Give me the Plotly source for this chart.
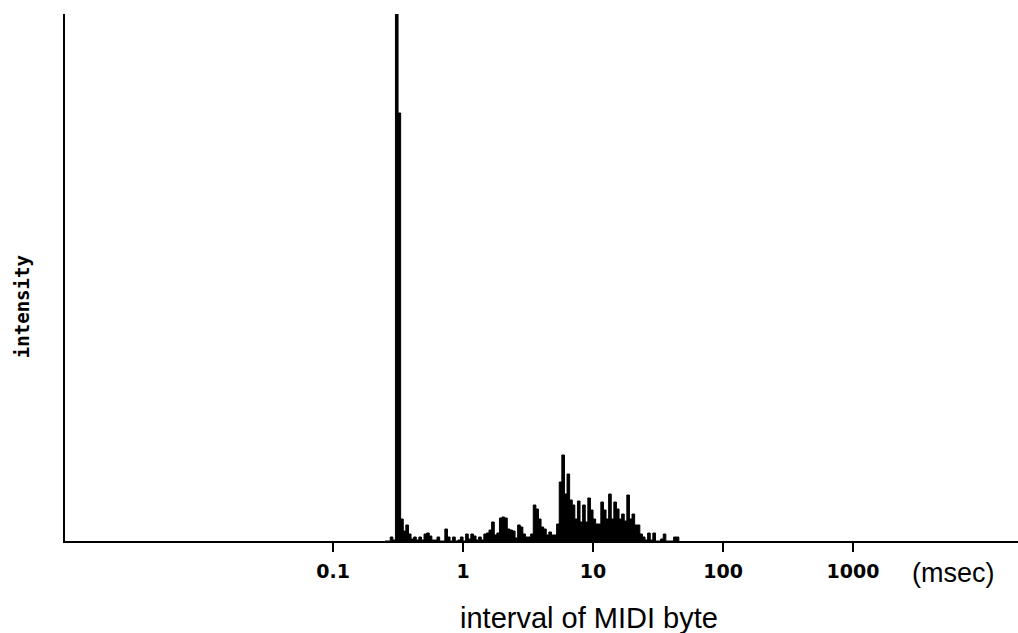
import numpy as np
import plotly.graph_objects as go

# Histogram of MIDI byte intervals (log-spaced bins)
bin_start_log10_ms = -0.6      # lower edge of first bin, log10(ms)
bin_step_decades = 0.02        # bin width in decades
intensity = [
    0, 0, 4, 1, 527, 428, 22, 10, 16, 7,
    2, 4, 1, 4, 1, 7, 8, 5, 1, 1,
    4, 0, 0, 12, 4, 0, 4, 0, 1, 4,
    0, 7, 2, 7, 5, 1, 4, 1, 7, 8,
    11, 19, 6, 8, 23, 24, 23, 12, 11, 10,
    3, 16, 14, 7, 4, 4, 7, 36, 32, 22,
    14, 12, 6, 9, 6, 6, 17, 59, 86, 47,
    67, 41, 36, 22, 40, 19, 36, 19, 43, 31,
    22, 17, 17, 39, 31, 22, 47, 22, 39, 32,
    22, 27, 20, 46, 22, 27, 16, 16, 7, 4,
    1, 8, 1, 8, 0, 0, 2, 7, 0, 0,
    0, 4, 4,
]
tick_values = [0.1, 1, 10, 100, 1000]
tick_labels = ["0.1", "1", "10", "100", "1000"]
x_title = "interval of MIDI byte"
y_title = "intensity"
unit_label = "(msec)"

n = len(intensity)
edges = 10 ** (bin_start_log10_ms + bin_step_decades * np.arange(n + 1))
xs = list(edges)
ys = list(intensity) + [0]

fig = go.Figure()
fig.add_trace(go.Scatter(
    x=xs, y=ys, mode="lines", line_shape="hv",
    line=dict(color="black", width=1),
    fill="tozeroy", fillcolor="black",
    hoverinfo="skip", showlegend=False,
))

fig.update_layout(
    width=1018, height=633,
    margin=dict(l=65, r=0, t=14, b=92),
    paper_bgcolor="white", plot_bgcolor="white",
    xaxis=dict(
        type="log", range=[-3.062, 4.269],
        tickvals=tick_values, ticktext=tick_labels,
        ticks="outside", ticklen=9, tickwidth=1.5, tickcolor="black",
        showline=True, linecolor="black", linewidth=1.5,
        showgrid=False, zeroline=False,
        tickfont=dict(family="DejaVu Sans", size=19, color="black", weight="bold"),
        ticklabelstandoff=3,
    ),
    yaxis=dict(
        range=[0, 527],
        showline=True, linecolor="black", linewidth=1.5,
        showticklabels=False, ticks="", showgrid=False, zeroline=False,
    ),
    annotations=[
        dict(text=x_title, xref="paper", yref="paper", x=0.55, y=-0.146,
             showarrow=False, xanchor="center", yanchor="middle",
             font=dict(family="Liberation Sans", size=29, color="black")),
        dict(text=unit_label, xref="paper", yref="paper", x=0.932, y=-0.061,
             showarrow=False, xanchor="center", yanchor="middle",
             font=dict(family="Liberation Sans", size=27, color="black")),
        dict(text=y_title, xref="paper", yref="paper", x=-0.045, y=0.444,
             showarrow=False, xanchor="center", yanchor="middle", textangle=-90,
             font=dict(family="DejaVu Sans Mono", size=19, color="black", weight="bold")),
    ],
)

fig.write_html("out.html")
